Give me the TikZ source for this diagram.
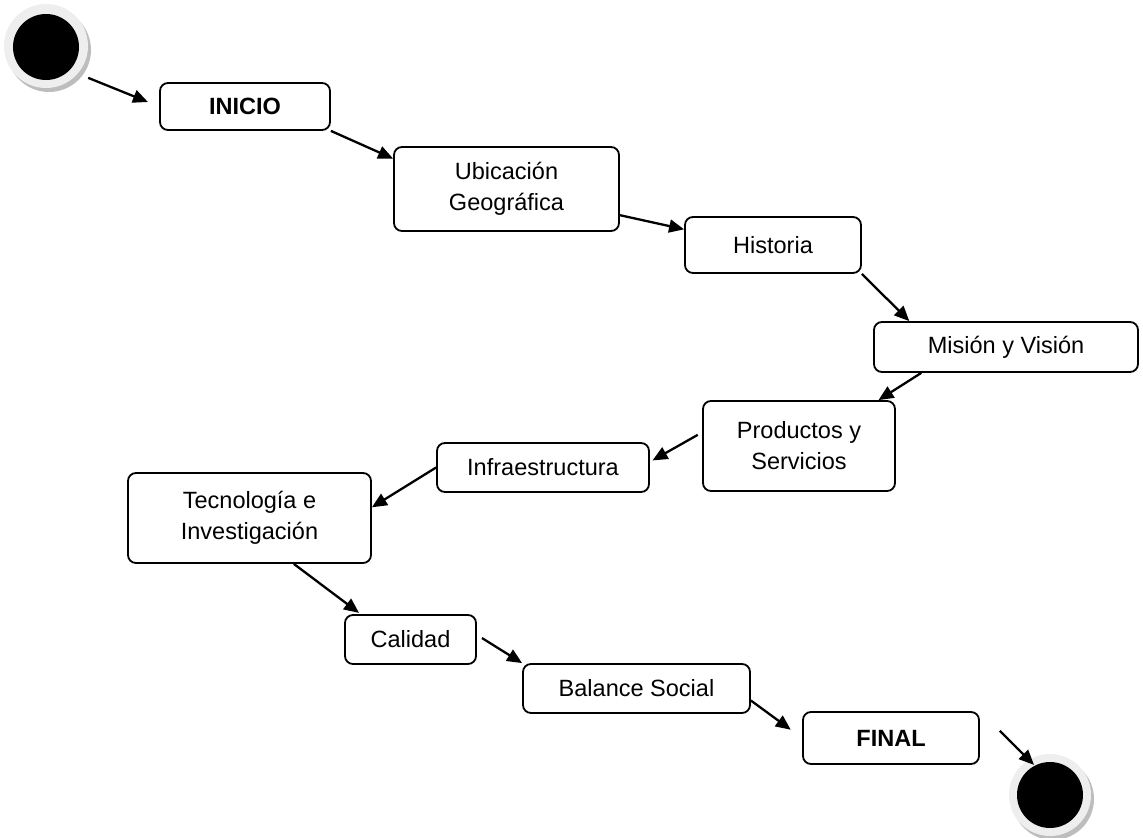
\documentclass[tikz,border=0pt]{standalone}
\usepackage{fontspec}
\setmainfont{Liberation Sans}
\usepackage{tikz}
\usetikzlibrary{arrows.meta}
\definecolor{halogray}{HTML}{EEEEEE}
\definecolor{shadowgray}{HTML}{BDBDBD}
\tikzstyle{boxnode} = [draw, rounded corners=8bp, line width=1.8bp, inner sep=0pt, align=center, font=\fontsize{23.6}{31}\selectfont]
\tikzstyle{endnode} = [circle, fill=black, minimum size=66bp, inner sep=0pt]
\begin{document}
\begin{tikzpicture}[x=1bp, y=-1bp, line width=2.3bp, >={Triangle[length=15bp,width=13bp]}]
  \useasboundingbox (0,0) rectangle (1143,838);

  \fill[shadowgray] (49,50) circle (42);
  \fill[halogray] (46,46) circle (42);
  \node[endnode] (start) at (46,47) {};
  \fill[shadowgray] (1053,799) circle (41);
  \fill[halogray] (1050,795) circle (41);
  \node[endnode] (endc) at (1050,795) {};

  \node[boxnode, minimum width=170bp, minimum height=47bp] (ini) at (245,106.5) {\textbf{INICIO}};
  \node[boxnode, minimum width=225bp, minimum height=84bp] (ubi) at (506.5,189) {Ubicación\\Geográfica};
  \node[boxnode, minimum width=176bp, minimum height=56bp] (his) at (773,245) {Historia};
  \node[boxnode, minimum width=264bp, minimum height=50bp] (mis) at (1006,347) {Misión y Visión};
  \node[boxnode, minimum width=192bp, minimum height=90bp] (pro) at (799,446) {Productos y\\Servicios};
  \node[boxnode, minimum width=212bp, minimum height=49bp] (inf) at (543,467.5) {Infraestructura};
  \node[boxnode, minimum width=243bp, minimum height=90bp] (tec) at (249.5,518) {Tecnología e\\Investigación};
  \node[boxnode, minimum width=131bp, minimum height=49bp] (cal) at (410.5,639.5) {Calidad};
  \node[boxnode, minimum width=227bp, minimum height=49bp] (bal) at (636.5,688.5) {Balance Social};
  \node[boxnode, minimum width=176bp, minimum height=52bp] (fin) at (891,738) {\textbf{FINAL}};

  \draw[->, shorten <=19bp, shorten >=12bp] (start.-44) -- (ini.west);
  \draw[->] (ini.south east) -- (ubi.165);
  \draw[->] (ubi.-13) -- (his.170);
  \draw[->] (his.south east) -- (mis.165);
  \draw[->] (mis.-163) -- (pro.30);
  \draw[->, shorten <=5bp, shorten >=3bp] (pro.172) -- (inf.3);
  \draw[->] (inf.west) -- (tec.5);
  \draw[->, shorten >=2bp] (tec.-46) -- (cal.153);
  \draw[->, shorten <=6bp] (cal.4) -- (bal.north west);
  \draw[->, shorten >=14bp] (bal.-6) -- (fin.west);
  \draw[->, shorten <=28bp] (fin.north east) -- (endc.118);
\end{tikzpicture}
\end{document}
